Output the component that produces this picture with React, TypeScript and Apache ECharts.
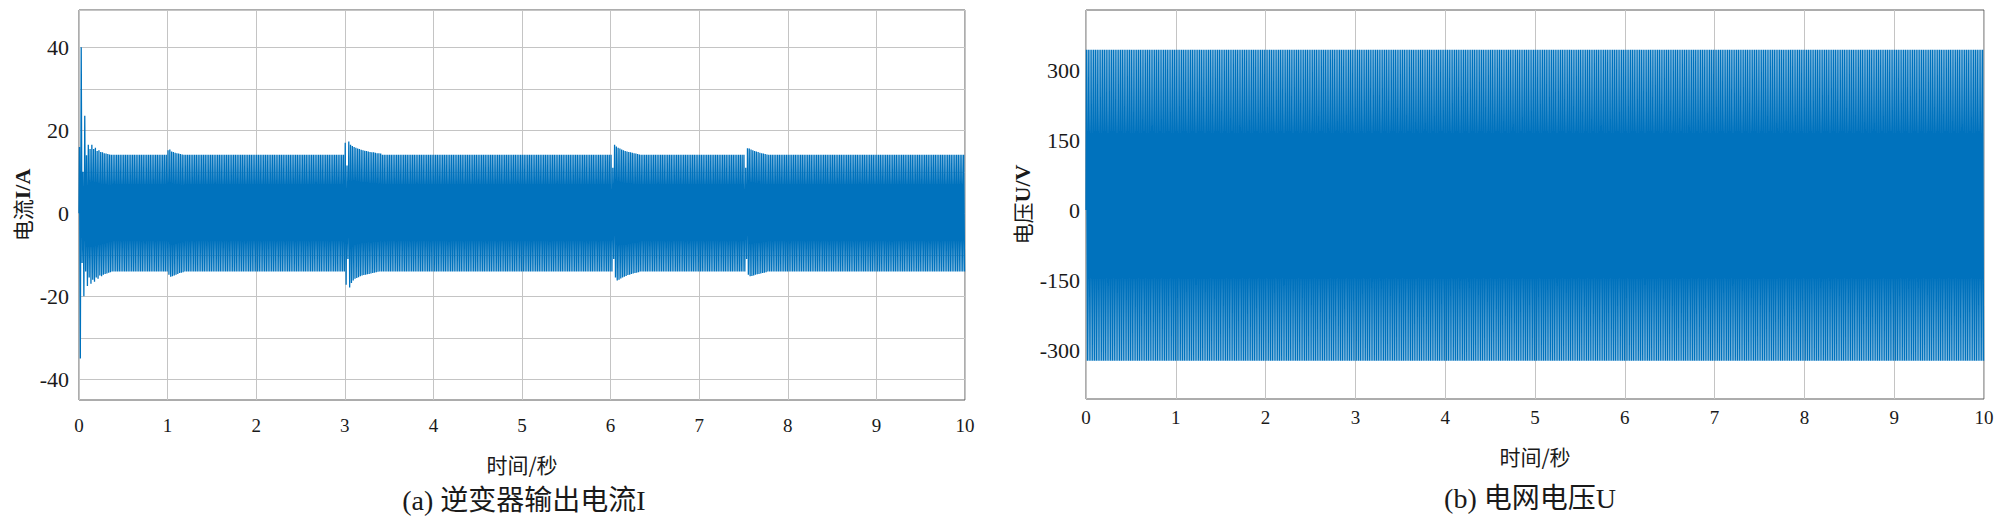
import React, { useEffect, useRef } from "react";
import * as echarts from "echarts";

// ---------- data ----------
const X_TICK_LABELS = [0, 1, 2, 3, 4, 5, 6, 7, 8, 9, 10];
const CURRENT_TICK_LABELS = [-40, -20, 0, 20, 40];
const VOLTAGE_TICK_LABELS = [-300, -150, 0, 150, 300];

const CYCLE_S = 0.02; // 50 Hz
const CYCLES = 500; // 10 s

// inverter output current: steady peaks
const currentSteadyUpper = 14.1;
const currentSteadyLower = -14.0;

// transient events (start time, per-cycle positive / negative peaks)
const currentEventStarts = [0, 1.0, 3.0, 6.02, 7.52];
const currentEvent0Upper = [16, 40, 10, 23.5, 14, 16.5, 15.5, 16.5, 15.5, 15.8, 15, 15.2, 14.8, 14.7, 14.5, 14.4, 14.3, 14.2];
const currentEvent0Lower = [-35, -12, -20, -14, -17.5, -15.5, -17, -16, -16.5, -15.5, -15.8, -15, -15.2, -14.8, -14.6, -14.5, -14.3, -14.2];
const currentEvent1Upper = [15.2, 15.4, 14.9, 14.8, 14.6, 14.5, 14.4, 14.3, 14.2];
const currentEvent1Lower = [-14.8, -15.3, -15.2, -15.0, -14.8, -14.6, -14.4, -14.3, -14.2];
const currentEvent2Upper = [17.0, 11.5, 17.3, 16.5, 16.2, 16.0, 15.8, 15.6, 15.5, 15.3, 15.2, 15.1, 15.0, 14.9, 14.8, 14.7, 14.7, 14.6, 14.5, 14.5, 14.4];
const currentEvent2Lower = [-17.2, -11, -17.9, -16.8, -16.2, -15.8, -15.6, -15.4, -15.2, -15.0, -14.9, -14.8, -14.7, -14.6, -14.5, -14.4, -14.3, -14.2, -14.1];
const currentEvent3Upper = [11, 16.5, 16.1, 15.8, 15.6, 15.4, 15.2, 15.0, 14.9, 14.8, 14.7, 14.6, 14.5, 14.4, 14.3, 14.2];
const currentEvent3Lower = [-11, -15.5, -16.2, -16.0, -15.7, -15.5, -15.3, -15.1, -14.9, -14.8, -14.6, -14.5, -14.4, -14.3, -14.2];
const currentEvent4Upper = [11, 15.7, 15.6, 15.4, 15.2, 15.0, 14.9, 14.8, 14.6, 14.5, 14.4, 14.3, 14.2];
const currentEvent4Lower = [-11, -14.8, -15.2, -15.1, -15.0, -14.8, -14.7, -14.6, -14.5, -14.4, -14.3, -14.2];

// grid voltage: steady peaks
const voltageSteadyUpper = 344;
const voltageSteadyLower = -323;

// ---------- build series from the peak lists ----------
type Ev = { start: number; upper: number[]; lower: number[] };

function buildWave(up: number, low: number, events: Ev[]): number[][] {
  const pts: number[][] = [[0, 0]];
  for (let k = 0; k < CYCLES; k++) {
    let u = up;
    let l = low;
    for (const e of events) {
      const c0 = Math.round(e.start / CYCLE_S);
      const i = k - c0;
      if (i >= 0 && i < e.upper.length) u = e.upper[i];
      if (i >= 0 && i < e.lower.length) l = e.lower[i];
    }
    pts.push([k * CYCLE_S + CYCLE_S / 4, u]);
    pts.push([k * CYCLE_S + (3 * CYCLE_S) / 4, l]);
  }
  return pts;
}

const currentEvents: Ev[] = [
  { start: currentEventStarts[0], upper: currentEvent0Upper, lower: currentEvent0Lower },
  { start: currentEventStarts[1], upper: currentEvent1Upper, lower: currentEvent1Lower },
  { start: currentEventStarts[2], upper: currentEvent2Upper, lower: currentEvent2Lower },
  { start: currentEventStarts[3], upper: currentEvent3Upper, lower: currentEvent3Lower },
  { start: currentEventStarts[4], upper: currentEvent4Upper, lower: currentEvent4Lower },
];

const NUM = "Liberation Serif";
const SERIF = "Liberation Serif, Noto Sans CJK SC, serif";
const CJK = "Noto Sans CJK SC";
const LINE = "#0072BD";
const GRID = "#c4c4c4";
const BOX = "#5a5a5a";
const TXT = "#1a1a1a";

export default function App() {
  const ref = useRef<HTMLDivElement>(null);
  useEffect(() => {
    if (!ref.current) return;
    const chart = echarts.init(ref.current, null, { renderer: "svg" });
    const currentData = buildWave(currentSteadyUpper, currentSteadyLower, currentEvents);
    const voltageData = buildWave(voltageSteadyUpper, voltageSteadyLower, []);

    const xAxisBase = (gridIndex: number, labelMargin: number, nameGap: number) => ({
      type: "value",
      gridIndex,
      min: X_TICK_LABELS[0],
      max: X_TICK_LABELS[X_TICK_LABELS.length - 1],
      interval: 1,
      axisLine: { show: false },
      axisTick: { show: false },
      axisLabel: {
        color: TXT,
        fontFamily: NUM,
        fontSize: 19,
        margin: labelMargin,
        formatter: (v: number) => (X_TICK_LABELS.includes(v) ? String(v) : ""),
      },
      splitLine: { show: true, lineStyle: { color: GRID, width: 1 } },
      name: "时间/秒",
      nameLocation: "middle",
      nameGap,
      nameTextStyle: { color: TXT, fontFamily: CJK, fontSize: 21 },
    });

    const yName = {
      color: TXT,
      rich: {
        a: { fontFamily: CJK, fontSize: 21, color: TXT },
        b: { fontFamily: NUM, fontSize: 22, fontWeight: "bold", color: TXT },
      },
    };

    chart.setOption({
      animation: false,
      backgroundColor: "#ffffff",
      grid: [
        { left: 79, top: 10, width: 886, height: 390, show: true, borderColor: BOX, borderWidth: 1, backgroundColor: "transparent" },
        { left: 1086, top: 10, width: 898, height: 389, show: true, borderColor: BOX, borderWidth: 1, backgroundColor: "transparent" },
      ],
      xAxis: [xAxisBase(0, 16, 53), xAxisBase(1, 9, 46)],
      yAxis: [
        {
          type: "value",
          gridIndex: 0,
          min: -45,
          max: 49,
          interval: 5,
          axisLine: { show: false },
          axisTick: { show: false },
          axisLabel: {
            color: TXT,
            fontFamily: NUM,
            fontSize: 22,
            margin: 10,
            formatter: (v: number) => (CURRENT_TICK_LABELS.includes(v) ? String(v) : ""),
          },
          splitLine: { show: true, lineStyle: { color: ["rgba(0,0,0,0)", GRID], width: 1 } },
          name: "{a|电流}{b|I/A}",
          nameLocation: "middle",
          nameGap: 46,
          nameTextStyle: yName,
        },
        {
          type: "value",
          gridIndex: 1,
          min: -405,
          max: 429,
          interval: 15,
          axisLine: { show: false },
          axisTick: { show: false },
          axisLabel: {
            color: TXT,
            fontFamily: NUM,
            fontSize: 22,
            margin: 6,
            formatter: (v: number) => (VOLTAGE_TICK_LABELS.includes(v) ? String(v) : ""),
          },
          splitLine: { show: false },
          name: "{a|电压}{b|U/V}",
          nameLocation: "middle",
          nameGap: 53,
          nameTextStyle: yName,
        },
      ],
      series: [
        {
          type: "line",
          xAxisIndex: 0,
          yAxisIndex: 0,
          data: currentData,
          symbol: "none",
          showSymbol: false,
          lineStyle: { color: LINE, width: 1.3 },
          silent: true,
        },
        {
          type: "line",
          xAxisIndex: 1,
          yAxisIndex: 1,
          data: voltageData,
          symbol: "none",
          showSymbol: false,
          lineStyle: { color: LINE, width: 1.3 },
          silent: true,
        },
      ],
      graphic: [
        {
          type: "text",
          x: 524,
          y: 500,
          style: {
            text: "(a) 逆变器输出电流I",
            fontFamily: SERIF,
            fontSize: 28,
            fill: TXT,
            textAlign: "center",
            textVerticalAlign: "middle",
          },
        },
        {
          type: "text",
          x: 1530,
          y: 498,
          style: {
            text: "(b) 电网电压U",
            fontFamily: SERIF,
            fontSize: 28,
            fill: TXT,
            textAlign: "center",
            textVerticalAlign: "middle",
          },
        },
      ],
    });
    return () => chart.dispose();
  }, []);
  return (
    <div
      ref={ref}
      style={{ position: "absolute", left: 0, top: 0, width: 2000, height: 531 }}
    />
  );
}
